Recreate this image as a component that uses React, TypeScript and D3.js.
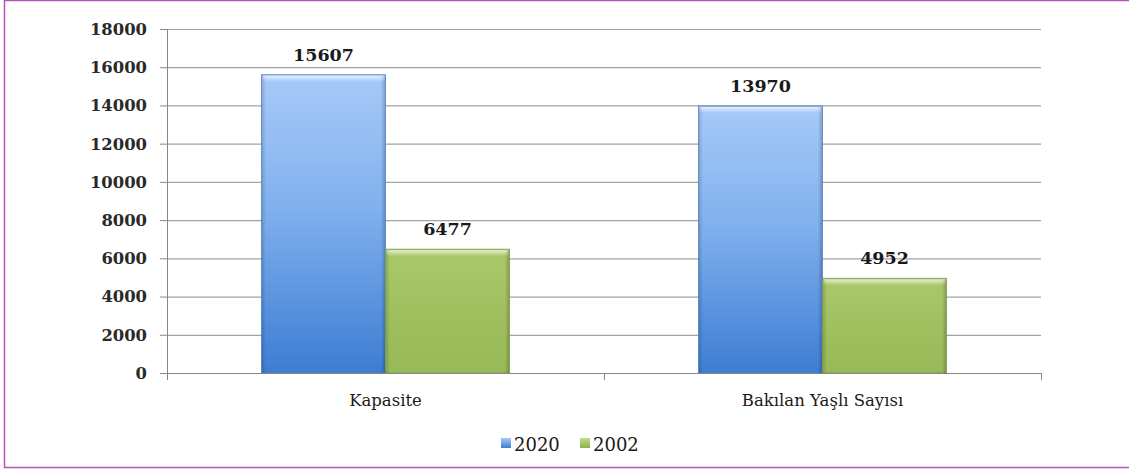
import React from "react";
import * as d3 from "d3";

const categories = ["Kapasite", "Bakılan Yaşlı Sayısı"];
const seriesNames = ["2020", "2002"];
const values2020 = [15607, 13970];
const values2002 = [6477, 4952];
const yTicks = [0, 2000, 4000, 6000, 8000, 10000, 12000, 14000, 16000, 18000];

const W = 1129;
const H = 472;
const FONT = "'DejaVu Serif', serif";

export default function App() {
  const left = 167;
  const right = 1041;
  const top = 29;
  const bottom = 373;

  const y = d3.scaleLinear().domain([0, 18000]).range([bottom, top]);
  const x0 = d3.scaleBand<string>().domain(categories).range([left, right]).paddingInner(0).paddingOuter(0);
  const x1 = d3
    .scaleBand<string>()
    .domain(seriesNames)
    .range([0, x0.bandwidth()])
    .paddingInner(0)
    .paddingOuter(0.762);

  const seriesValues: Record<string, number[]> = { "2020": values2020, "2002": values2002 };
  const fills: Record<string, string> = { "2020": "url(#gBlue)", "2002": "url(#gGreen)" };
  const strokes: Record<string, string> = { "2020": "#4a7ebb", "2002": "#7b9a3e" };
  const legendFills: Record<string, string> = { "2020": "url(#lBlue)", "2002": "url(#lGreen)" };

  const bars: React.ReactNode[] = [];
  categories.forEach((c, ci) => {
    seriesNames.forEach((s) => {
      const v = seriesValues[s][ci];
      const bx = (x0(c) ?? 0) + (x1(s) ?? 0);
      const bw = x1.bandwidth();
      const by = y(v);
      const bh = bottom - by;
      bars.push(
        <g key={c + s}>
          <rect x={bx} y={by} width={bw} height={bh} fill={fills[s]} stroke={strokes[s]} strokeWidth={1} strokeOpacity={0.8} />
          <rect x={bx + 1} y={by + 1} width={bw - 2} height={6} fill="url(#gTop)" />
          <rect x={bx + 0.5} y={by + 1} width={4} height={bh - 1} fill="url(#gLeft)" />
          <rect x={bx + bw - 4.5} y={by + 1} width={4} height={bh - 1} fill="url(#gRight)" />
          <text
            x={bx + bw / 2}
            y={by - 14}
            textAnchor="middle"
            fontFamily={FONT}
            fontWeight="bold"
            fontSize={17.5}
            fill="#1a1a1a"
          >
            {v}
          </text>
        </g>
      );
    });
  });

  const legendItems = [
    { s: "2020", x: 501 },
    { s: "2002", x: 580 },
  ];

  return (
    <svg width={W} height={H} style={{ position: "absolute", left: 0, top: 0, background: "#fff" }}>
      <defs>
        <linearGradient id="gBlue" x1="0" y1="0" x2="0" y2="1">
          <stop offset="0" stopColor="#a7caf8" />
          <stop offset="0.45" stopColor="#80b0ee" />
          <stop offset="1" stopColor="#3e7dd3" />
        </linearGradient>
        <linearGradient id="gGreen" x1="0" y1="0" x2="0" y2="1">
          <stop offset="0" stopColor="#a9c86a" />
          <stop offset="1" stopColor="#98b957" />
        </linearGradient>
        <linearGradient id="gTop" x1="0" y1="0" x2="0" y2="1">
          <stop offset="0" stopColor="#ffffff" stopOpacity="0.7" />
          <stop offset="1" stopColor="#ffffff" stopOpacity="0" />
        </linearGradient>
        <linearGradient id="gLeft" x1="0" y1="0" x2="1" y2="0">
          <stop offset="0" stopColor="#000" stopOpacity="0.15" />
          <stop offset="1" stopColor="#000" stopOpacity="0" />
        </linearGradient>
        <linearGradient id="gRight" x1="0" y1="0" x2="1" y2="0">
          <stop offset="0" stopColor="#000" stopOpacity="0" />
          <stop offset="1" stopColor="#000" stopOpacity="0.2" />
        </linearGradient>
        <linearGradient id="lBlue" x1="0" y1="0" x2="0" y2="1">
          <stop offset="0" stopColor="#a7caf8" />
          <stop offset="1" stopColor="#3e7dd3" />
        </linearGradient>
        <linearGradient id="lGreen" x1="0" y1="0" x2="0" y2="1">
          <stop offset="0" stopColor="#c3dc84" />
          <stop offset="1" stopColor="#8db24c" />
        </linearGradient>
      </defs>

      <rect x={4.5} y={0.5} width={1140} height={467} fill="none" stroke="#b455b6" strokeWidth={1.5} />

      {yTicks.map((t) => (
        <g key={t}>
          {t > 0 && <line x1={left} x2={right} y1={y(t) + 0.5} y2={y(t) + 0.5} stroke="#a3a3a3" strokeWidth={1.2} />}
          <line x1={left - 7} x2={left} y1={y(t) + 0.5} y2={y(t) + 0.5} stroke="#868686" strokeWidth={1} />
          <text x={147} y={y(t)} dy="0.36em" textAnchor="end" fontFamily={FONT} fontWeight="bold" fontSize={16.4} fill="#2a2a2a">
            {t}
          </text>
        </g>
      ))}

      <line x1={left + 0.5} x2={left + 0.5} y1={top} y2={bottom} stroke="#868686" strokeWidth={1} />

      {bars}

      <line x1={left} x2={right} y1={bottom + 0.5} y2={bottom + 0.5} stroke="#868686" strokeWidth={1} />
      {[left, ...categories.map((c) => (x0(c) ?? 0) + x0.bandwidth())].map((tx, i) => (
        <line key={i} x1={tx + 0.5} x2={tx + 0.5} y1={bottom} y2={bottom + 7} stroke="#868686" strokeWidth={1} />
      ))}

      {categories.map((c) => (
        <text
          key={c}
          x={(x0(c) ?? 0) + x0.bandwidth() / 2}
          y={406}
          textAnchor="middle"
          fontFamily={FONT}
          fontSize={16.5}
          fill="#1a1a1a"
        >
          {c}
        </text>
      ))}

      {legendItems.map(({ s, x }) => (
        <g key={s}>
          <rect x={x} y={438} width={10} height={10} fill={legendFills[s]} />
          <text x={x + 13} y={451} fontFamily={FONT} fontSize={18} fill="#1a1a1a">
            {s}
          </text>
        </g>
      ))}
    </svg>
  );
}
